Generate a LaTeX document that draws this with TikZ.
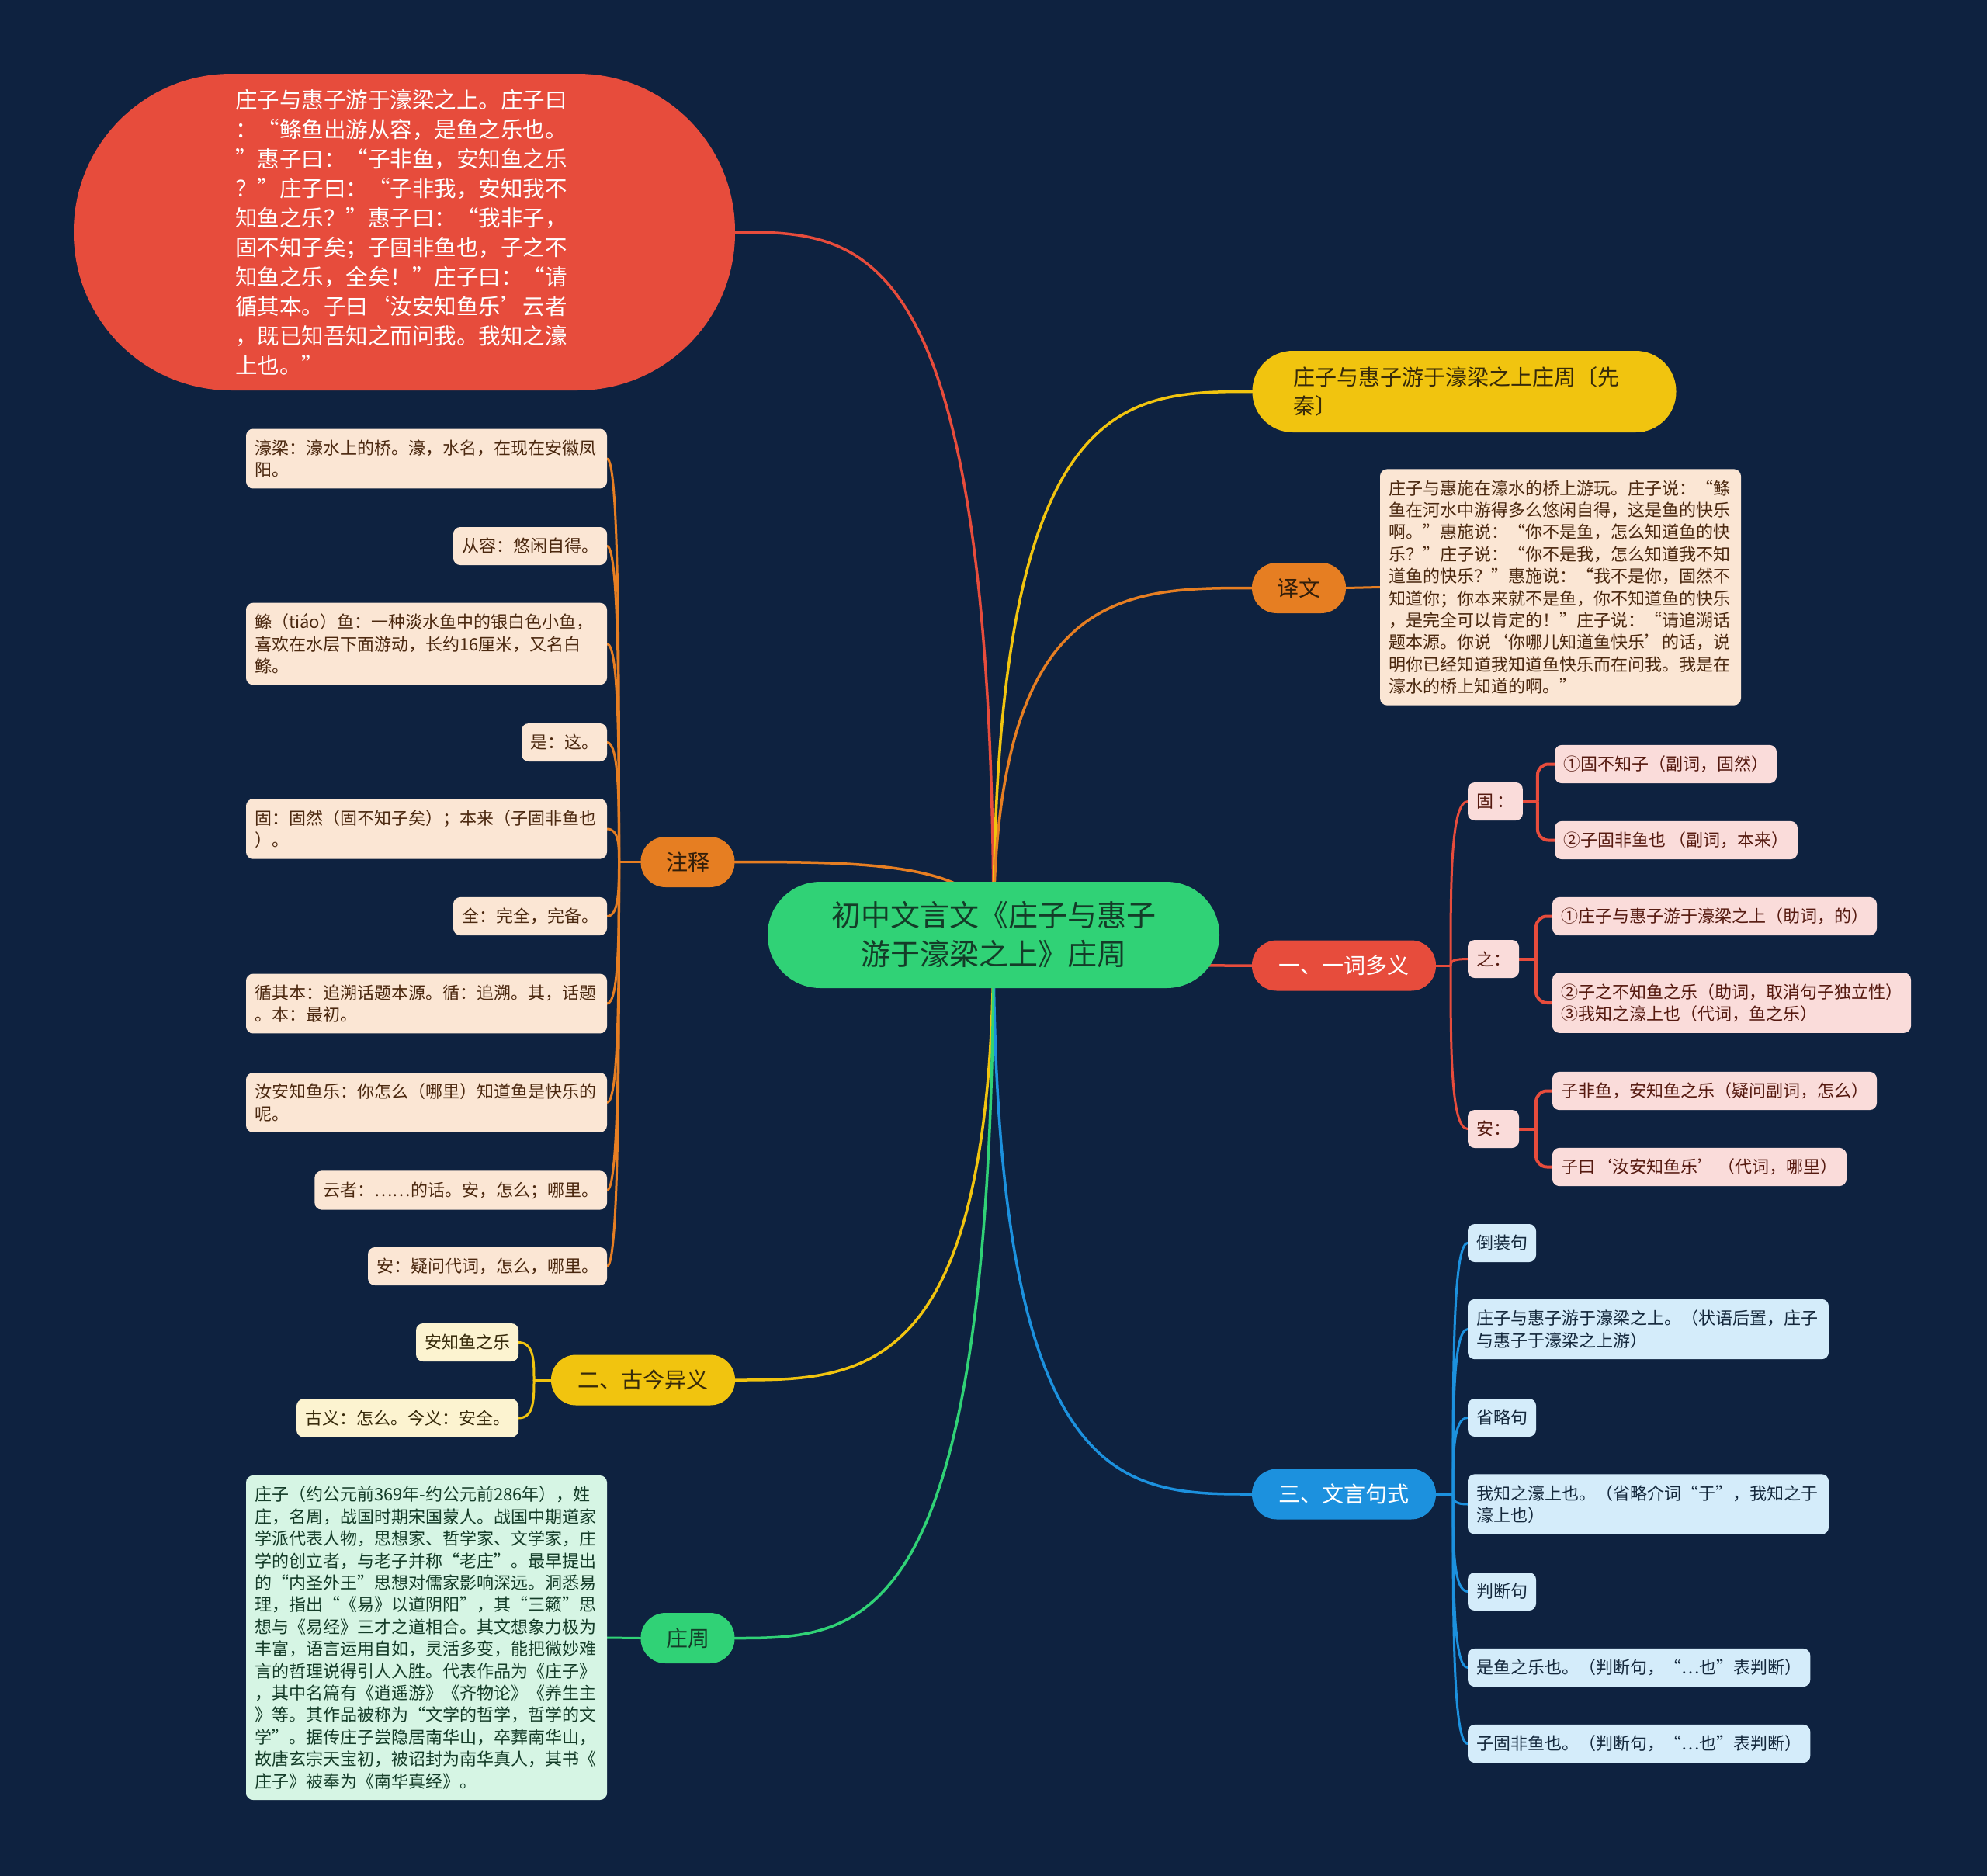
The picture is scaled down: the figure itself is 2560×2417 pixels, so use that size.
\documentclass[tikz,border=0pt]{standalone}
\usepackage{fontspec}
\setmainfont{Noto Sans CJK SC}
\usetikzlibrary{calc}
\definecolor{bgc}{RGB}{14,34,64}
\definecolor{cRed}{RGB}{231,76,60}
\definecolor{cOra}{RGB}{230,126,34}
\definecolor{cYel}{RGB}{241,196,15}
\definecolor{cGreen}{RGB}{48,210,118}
\definecolor{cBlue}{RGB}{28,145,222}
\definecolor{lPeach}{RGB}{251,230,212}
\definecolor{lPink}{RGB}{250,220,218}
\definecolor{lBlue}{RGB}{212,236,250}
\definecolor{lYel}{RGB}{252,243,208}
\definecolor{lGreen}{RGB}{214,245,228}
\definecolor{tPeach}{RGB}{75,40,15}
\definecolor{tPink}{RGB}{85,25,15}
\definecolor{tBlue}{RGB}{20,40,60}
\definecolor{tYel}{RGB}{55,42,10}
\definecolor{tGreen}{RGB}{20,60,40}
\definecolor{tDark}{RGB}{50,30,10}
\newcommand\myfontL{\fontsize{22}{28.4}\selectfont}
\newcommand\myfontM{\fontsize{28}{37}\selectfont}
\newcommand\myfontR{\fontsize{28.5}{38}\selectfont}
\newcommand\myfontC{\fontsize{38}{50}\selectfont}
\newcommand\mmcurve[2]{\draw[#1] (C.center) .. controls (C.center |- #2) and ($(C.center |- #2)!0.5!(#2)$) .. (#2);}
\newcommand\trunkcurve[3]{\draw[#1] (#2) .. controls ($(#2)!0.5!(#2 |- #3)$) and (#2 |- #3) .. (#3);}
\pgfdeclarelayer{back}
\pgfdeclarelayer{edges}
\pgfsetlayers{back,edges,main}
\tikzset{
  every node/.style={outer sep=0pt},
  mainline/.style={line width=3.5pt, line cap=round},
  subline/.style={line width=3pt, line cap=round},
  brkline/.style={line width=4pt, cRed, rounded corners=14pt},
  rootnode/.style={fill=cGreen, rounded corners=68pt, minimum width=582pt, minimum height=137pt, align=center, font=\myfontC, text=tGreen},
  topic/.style={rounded corners=32pt, minimum height=65pt, align=center, font=\myfontM, inner xsep=0pt},
  leaf/.style={rounded corners=9pt, inner xsep=11pt, inner ysep=14pt, align=left, font=\myfontL, minimum height=49pt},
  wide/.style={text width=443pt},
  peach/.style={leaf, fill=lPeach, text=tPeach},
  pink/.style={leaf, fill=lPink, text=tPink},
  lblue/.style={leaf, fill=lBlue, text=tBlue},
  lyel/.style={leaf, fill=lYel, text=tYel},
  lgreen/.style={leaf, fill=lGreen, text=tGreen},
}
\begin{document}
\begin{tikzpicture}[x=1pt, y=-1pt]
\useasboundingbox (0,0) rectangle (2560,2417);
\begin{pgfonlayer}{back}
\fill[bgc] (0,0) rectangle (2560,2417);
\end{pgfonlayer}

% root
\node[rootnode] (C) at (1280,1204.5) {初中文言文《庄子与惠子\\游于濠梁之上》庄周};

% red original text
\node[fill=cRed, rounded corners=203pt, minimum width=852pt, minimum height=408pt, text width=436pt, align=left, font=\myfontR, text=white, inner sep=0pt] (R) at (521,299) {庄子与惠子游于濠梁之上。庄子曰\\：“鲦鱼出游从容，是鱼之乐也。\\”惠子曰：“子非鱼，安知鱼之乐\\？”庄子曰：“子非我，安知我不\\知鱼之乐？”惠子曰：“我非子，\\固不知子矣；子固非鱼也，子之不\\知鱼之乐，全矣！”庄子曰：“请\\循其本。子曰‘汝安知鱼乐’云者\\，既已知吾知之而问我。我知之濠\\上也。”};

% top yellow title
\node[fill=cYel, rounded corners=52pt, text width=440pt, inner xsep=53pt, inner ysep=0pt, minimum height=105pt, align=left, font=\myfontM, text=tYel] (T) at (1886.5,504.5) {庄子与惠子游于濠梁之上庄周〔先\\秦〕};

% topics
\node[topic, fill=cOra, text=tDark, minimum width=121pt] (YW) at (1673.5,757.5) {译文};
\node[topic, fill=cRed, text=white, minimum width=237pt] (YC) at (1731.5,1244) {一、一词多义};
\node[topic, fill=cBlue, text=white, minimum width=237pt] (SW) at (1731.5,1925) {三、文言句式};
\node[topic, fill=cOra, text=tDark, minimum width=121pt] (ZS) at (886,1110.5) {注释};
\node[topic, fill=cYel, text=tYel, minimum width=237pt] (GJ) at (828.5,1778) {二、古今异义};
\node[topic, fill=cGreen, text=tGreen, minimum width=121pt] (ZZ) at (886,2110.5) {庄周};

% translation leaf
\node[peach, wide, anchor=west] (Y1) at (1778,756.5) {庄子与惠施在濠水的桥上游玩。庄子说：“鲦\\鱼在河水中游得多么悠闲自得，这是鱼的快乐\\啊。”惠施说：“你不是鱼，怎么知道鱼的快\\乐？”庄子说：“你不是我，怎么知道我不知\\道鱼的快乐？”惠施说：“我不是你，固然不\\知道你；你本来就不是鱼，你不知道鱼的快乐\\，是完全可以肯定的！”庄子说：“请追溯话\\题本源。你说‘你哪儿知道鱼快乐’的话，说\\明你已经知道我知道鱼快乐而在问我。我是在\\濠水的桥上知道的啊。”};

% annotation leaves
\node[peach, wide, anchor=east] (L1) at (782,591) {濠梁：濠水上的桥。濠，水名，在现在安徽凤\\阳。};
\node[peach, anchor=east] (L2) at (782,703.5) {从容：悠闲自得。};
\node[peach, wide, anchor=east] (L3) at (782,829.5) {鲦（tiáo）鱼：一种淡水鱼中的银白色小鱼，\\喜欢在水层下面游动，长约16厘米，又名白\\鲦。};
\node[peach, anchor=east] (L4) at (782,956.5) {是：这。};
\node[peach, wide, anchor=east] (L5) at (782,1068) {固：固然（固不知子矣）；本来（子固非鱼也\\）。};
\node[peach, anchor=east] (L6) at (782,1180.5) {全：完全，完备。};
\node[peach, wide, anchor=east] (L7) at (782,1293) {循其本：追溯话题本源。循：追溯。其，话题\\。本：最初。};
\node[peach, wide, anchor=east] (L8) at (782,1420.5) {汝安知鱼乐：你怎么（哪里）知道鱼是快乐的\\呢。};
\node[peach, anchor=east] (L9) at (782,1533.5) {云者：……的话。安，怎么；哪里。};
\node[peach, anchor=east] (L10) at (782,1631.5) {安：疑问代词，怎么，哪里。};

% gujin leaves
\node[lyel, anchor=east] (G1) at (668,1729.5) {安知鱼之乐};
\node[lyel, anchor=east] (G2) at (668,1827) {古义：怎么。今义：安全。};

% zhuangzhou leaf
\node[lgreen, wide, anchor=east] (Z1) at (782,2110) {庄子（约公元前369年-约公元前286年），姓\\庄，名周，战国时期宋国蒙人。战国中期道家\\学派代表人物，思想家、哲学家、文学家，庄\\学的创立者，与老子并称“老庄”。最早提出\\的“内圣外王”思想对儒家影响深远。洞悉易\\理，指出“《易》以道阴阳”，其“三籁”思\\想与《易经》三才之道相合。其文想象力极为\\丰富，语言运用自如，灵活多变，能把微妙难\\言的哲理说得引人入胜。代表作品为《庄子》\\，其中名篇有《逍遥游》《齐物论》《养生主\\》等。其作品被称为“文学的哲学，哲学的文\\学”。据传庄子尝隐居南华山，卒葬南华山，\\故唐玄宗天宝初，被诏封为南华真人，其书《\\庄子》被奉为《南华真经》。};

% yi ci duo yi
\node[pink, anchor=west] (P1) at (1891,1032.5) {固 ：};
\node[pink, anchor=west] (P11) at (2003,984.5) {①固不知子（副词，固然）};
\node[pink, anchor=west] (P12) at (2003,1082.5) {②子固非鱼也 （副词，本来）};
\node[pink, anchor=west] (P2) at (1891,1235.5) {之：};
\node[pink, anchor=west] (P21) at (2000,1180.5) {①庄子与惠子游于濠梁之上（助词，的）};
\node[pink, anchor=west] (P22) at (2000,1292) {②子之不知鱼之乐（助词，取消句子独立性）\\③我知之濠上也（代词，鱼之乐）};
\node[pink, anchor=west] (P3) at (1891,1454.5) {安：};
\node[pink, anchor=west] (P31) at (2000,1405.5) {子非鱼，安知鱼之乐（疑问副词，怎么）};
\node[pink, anchor=west] (P32) at (2000,1503.5) {子曰‘汝安知鱼乐’ （代词，哪里）};

% wenyan sentences
\node[lblue, anchor=west] (B1) at (1891,1601.5) {倒装句};
\node[lblue, wide, anchor=west] (B2) at (1891,1712.5) {庄子与惠子游于濠梁之上。（状语后置，庄子\\与惠子于濠梁之上游）};
\node[lblue, anchor=west] (B3) at (1891,1826.5) {省略句};
\node[lblue, wide, anchor=west] (B4) at (1891,1938) {我知之濠上也。（省略介词“于”，我知之于\\濠上也）};
\node[lblue, anchor=west] (B5) at (1891,2050.5) {判断句};
\node[lblue, anchor=west] (B6) at (1891,2148.5) {是鱼之乐也。（判断句，“…也”表判断）};
\node[lblue, anchor=west] (B7) at (1891,2246.5) {子固非鱼也。（判断句，“…也”表判断）};

% junctions
\coordinate (jZS) at ($(ZS.west)+(-28,0)$);
\coordinate (jGJ) at ($(GJ.west)+(-22,0)$);
\coordinate (jYC) at ($(YC.east)+(19,0)$);
\coordinate (jSW) at ($(SW.east)+(22,0)$);

\begin{pgfonlayer}{edges}
% main branches
\mmcurve{mainline, cRed}{R.east}
\mmcurve{mainline, cYel}{T.west}
\mmcurve{mainline, cOra}{YW.west}
\mmcurve{mainline, cRed}{YC.west}
\mmcurve{mainline, cBlue}{SW.west}
\mmcurve{mainline, cOra}{ZS.east}
\mmcurve{mainline, cYel}{GJ.east}
\mmcurve{mainline, cGreen}{ZZ.east}
% translation
\draw[subline, cOra] (YW.east) -- (Y1.west);
% annotations
\draw[subline, cOra] (ZS.west) -- (jZS);
\foreach \n in {L1,L2,L3,L4,L5,L6,L7,L8,L9,L10}{
  \trunkcurve{subline, cOra}{jZS}{\n.east}
}
% gujin
\draw[subline, cYel] (GJ.west) -- (jGJ);
\foreach \n in {G1,G2}{
  \trunkcurve{subline, cYel}{jGJ}{\n.east}
}
% zhuangzhou
\draw[subline, cGreen] (ZZ.west) -- (Z1.east);
% yi ci duo yi
\draw[subline, cRed] (YC.east) -- (jYC);
\foreach \n in {P1,P2,P3}{
  \trunkcurve{subline, cRed}{jYC}{\n.west}
}
\draw[brkline] (P1.east) -- ++(19,0) coordinate (j1);
\draw[brkline] (j1) |- (P11.west);
\draw[brkline] (j1) |- (P12.west);
\draw[brkline] (P2.east) -- ++(22,0) coordinate (j2);
\draw[brkline] (j2) |- (P21.west);
\draw[brkline] (j2) |- (P22.west);
\draw[brkline] (P3.east) -- ++(22,0) coordinate (j3);
\draw[brkline] (j3) |- (P31.west);
\draw[brkline] (j3) |- (P32.west);
% wenyan
\draw[subline, cBlue] (SW.east) -- (jSW);
\foreach \n in {B1,B2,B3,B4,B5,B6,B7}{
  \trunkcurve{subline, cBlue}{jSW}{\n.west}
}
\end{pgfonlayer}
\end{tikzpicture}
\end{document}
